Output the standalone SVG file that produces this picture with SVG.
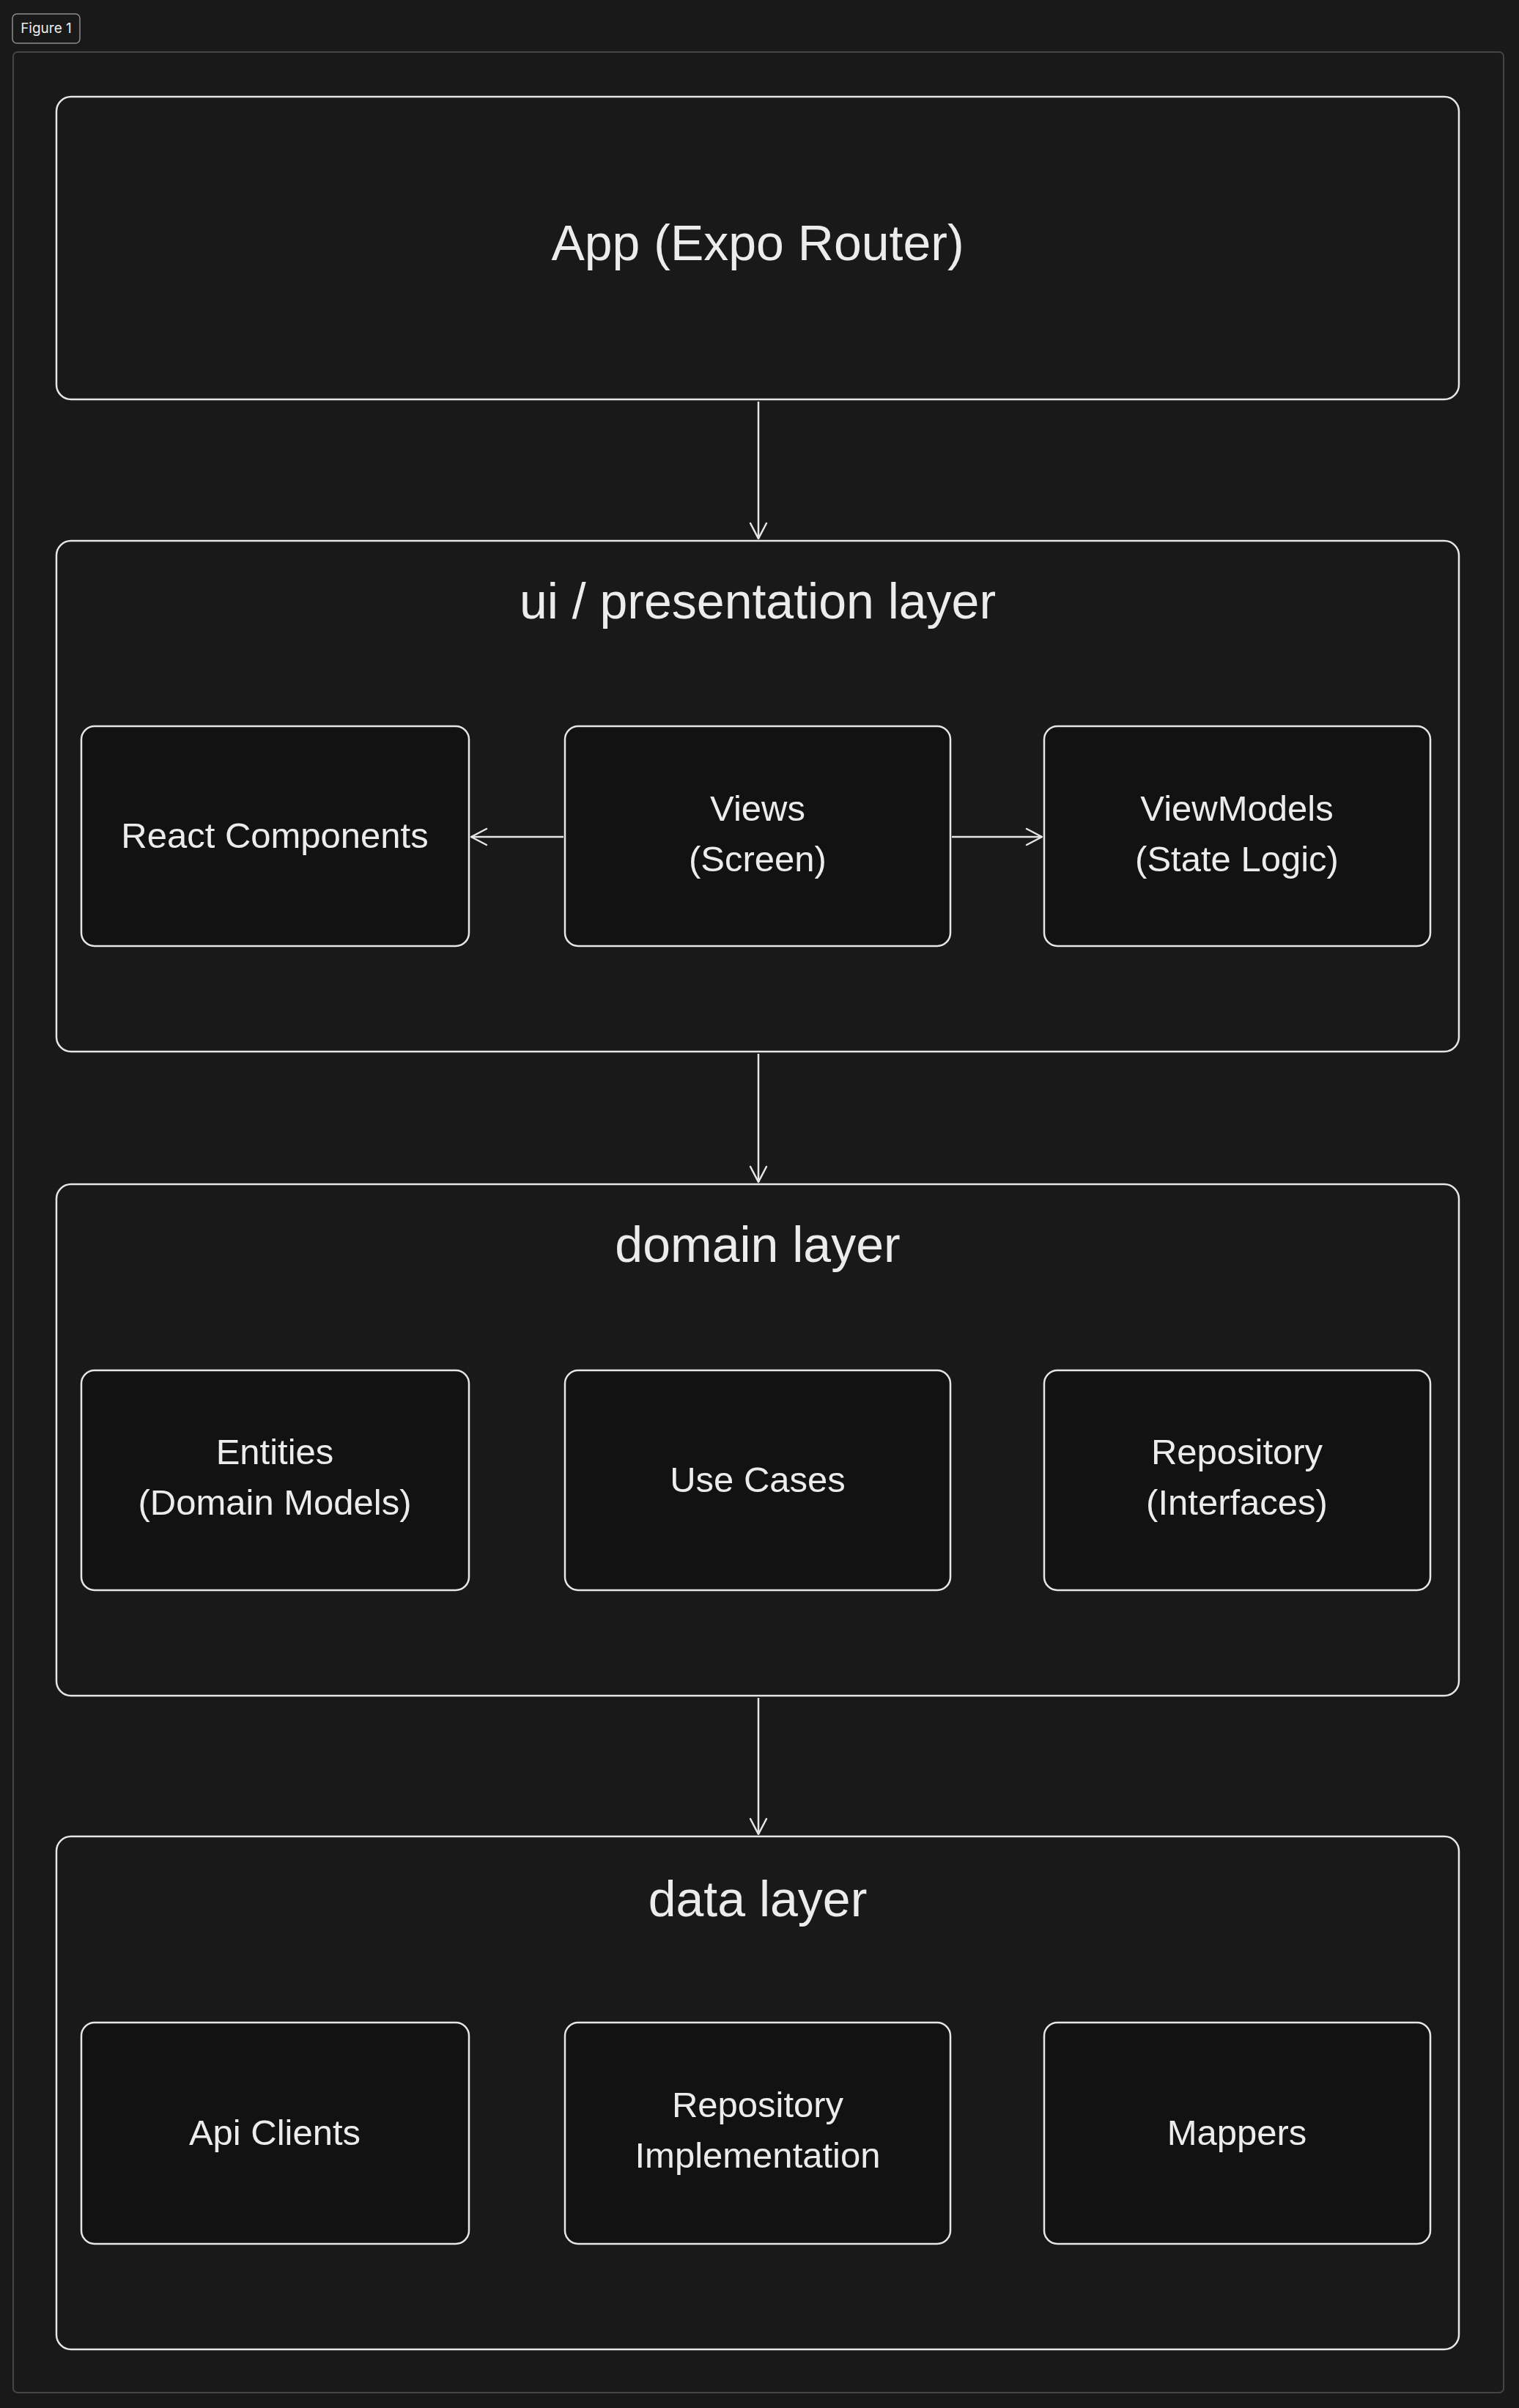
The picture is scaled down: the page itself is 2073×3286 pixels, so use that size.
<svg xmlns="http://www.w3.org/2000/svg" width="2073" height="3286" viewBox="0 0 2073 3286">
  <style>
    .box { fill: #191919; stroke: #e6e6e6; stroke-width: 2.5; }
    .inner { fill: #121212; stroke: #e6e6e6; stroke-width: 2.5; }
    .title { font-family: "Liberation Sans", Arial, sans-serif; font-size: 68px; fill: #ececec; text-anchor: middle; }
    .lbl { font-family: "Liberation Sans", Arial, sans-serif; font-size: 49px; fill: #ececec; text-anchor: middle; }
    .conn { stroke: #e6e6e6; stroke-width: 2.5; fill: none; }
  </style>
  <defs>
    <marker id="arrow" markerUnits="userSpaceOnUse" markerWidth="30" markerHeight="30" viewBox="-25 -15 30 30" refX="0" refY="0" orient="auto">
      <path d="M -21 -11 L 0 0 L -21 11" fill="none" stroke="#e6e6e6" stroke-width="2.5" stroke-linecap="round" stroke-linejoin="round"/>
    </marker>
  </defs>
  <rect x="0" y="0" width="2073" height="3286" fill="#191919"/>

  <g id="figure-label">
    <rect x="17" y="19" width="92" height="40" rx="6" fill="none" stroke="#8c8c8c" stroke-width="1.5"/>
    <text x="63" y="45" font-family="Inter, 'Noto Sans', sans-serif" font-size="19" fill="#ececec" text-anchor="middle">Figure 1</text>
  </g>
  <rect id="frame" x="18" y="71" width="2034" height="3194" rx="6" fill="none" stroke="#454545" stroke-width="2"/>

  <g id="app">
    <rect class="box" x="77" y="132" width="1914" height="413" rx="20"/>
    <text class="title" x="1034" y="355">App (Expo Router)</text>
  </g>

  <g id="ui-layer">
    <rect class="box" x="77" y="738" width="1914" height="697" rx="20"/>
    <text class="title" x="1034" y="844">ui / presentation layer</text>
  </g>
  <g id="react-components">
    <rect class="inner" x="111" y="991" width="529" height="300" rx="18"/>
    <text class="lbl" x="375" y="1157">React Components</text>
  </g>
  <g id="views">
    <rect class="inner" x="771" y="991" width="526" height="300" rx="18"/>
    <text class="lbl" x="1034" y="1120">Views</text>
    <text class="lbl" x="1034" y="1189">(Screen)</text>
  </g>
  <g id="viewmodels">
    <rect class="inner" x="1425" y="991" width="527" height="300" rx="18"/>
    <text class="lbl" x="1688" y="1120">ViewModels</text>
    <text class="lbl" x="1688" y="1189">(State Logic)</text>
  </g>

  <g id="domain-layer">
    <rect class="box" x="77" y="1616" width="1914" height="698" rx="20"/>
    <text class="title" x="1034" y="1722">domain layer</text>
  </g>
  <g id="entities">
    <rect class="inner" x="111" y="1870" width="529" height="300" rx="18"/>
    <text class="lbl" x="375" y="1998">Entities</text>
    <text class="lbl" x="375" y="2067">(Domain Models)</text>
  </g>
  <g id="use-cases">
    <rect class="inner" x="771" y="1870" width="526" height="300" rx="18"/>
    <text class="lbl" x="1034" y="2036">Use Cases</text>
  </g>
  <g id="repository-interfaces">
    <rect class="inner" x="1425" y="1870" width="527" height="300" rx="18"/>
    <text class="lbl" x="1688" y="1998">Repository</text>
    <text class="lbl" x="1688" y="2067">(Interfaces)</text>
  </g>

  <g id="data-layer">
    <rect class="box" x="77" y="2506" width="1914" height="700" rx="20"/>
    <text class="title" x="1034" y="2615">data layer</text>
  </g>
  <g id="api-clients">
    <rect class="inner" x="111" y="2760" width="529" height="302" rx="18"/>
    <text class="lbl" x="375" y="2927">Api Clients</text>
  </g>
  <g id="repository-implementation">
    <rect class="inner" x="771" y="2760" width="526" height="302" rx="18"/>
    <text class="lbl" x="1034" y="2889">Repository</text>
    <text class="lbl" x="1034" y="2958">Implementation</text>
  </g>
  <g id="mappers">
    <rect class="inner" x="1425" y="2760" width="527" height="302" rx="18"/>
    <text class="lbl" x="1688" y="2927">Mappers</text>
  </g>

  <g id="connectors">
    <line class="conn" x1="1035" y1="548" x2="1035" y2="735" marker-end="url(#arrow)"/>
    <line class="conn" x1="1035" y1="1438" x2="1035" y2="1613" marker-end="url(#arrow)"/>
    <line class="conn" x1="1035" y1="2317" x2="1035" y2="2503" marker-end="url(#arrow)"/>
    <line class="conn" x1="769" y1="1142" x2="643" y2="1142" marker-end="url(#arrow)"/>
    <line class="conn" x1="1299" y1="1142" x2="1422" y2="1142" marker-end="url(#arrow)"/>
  </g>
</svg>
